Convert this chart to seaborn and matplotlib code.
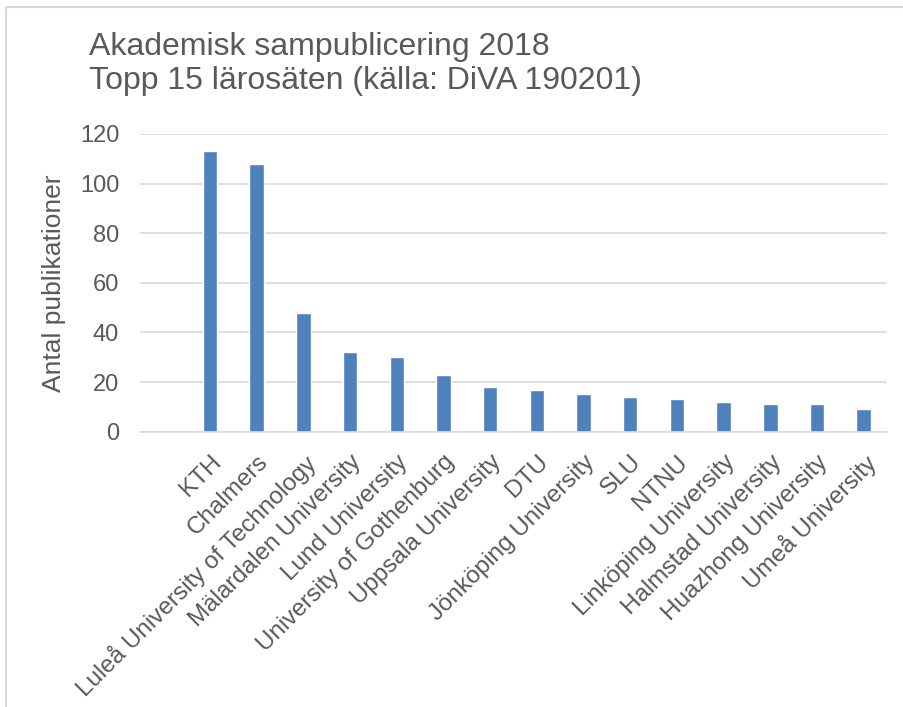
import matplotlib
matplotlib.use('Agg')
import matplotlib.pyplot as plt
from matplotlib.lines import Line2D
import seaborn as sns
import pandas as pd

categories = ["KTH", "Chalmers", "Luleå University of Technology", "Mälardalen University",
              "Lund University", "University of Gothenburg", "Uppsala University", "DTU",
              "Jönköping University", "SLU", "NTNU", "Linköping University",
              "Halmstad University", "Huazhong University", "Umeå University"]
values = [113, 108, 48, 32, 30, 23, 18, 17, 15, 14, 13, 12, 11, 11, 9]
yticks = [0, 20, 40, 60, 80, 100, 120]

sns.set_theme(style='white')
plt.rcParams['font.family'] = ['Liberation Sans', 'DejaVu Sans']

TXT = '#595959'
GRID = '#D9D9D9'

fig = plt.figure(figsize=(9.04, 7.07), dpi=100)
ax = fig.add_axes([140/904, 1-431.7/707, (887-140)/904, (431.7-134)/707])
df = pd.DataFrame({'Lärosäte': categories, 'Antal': values})
sns.barplot(data=df, x='Lärosäte', y='Antal', color='#4F81BD', width=0.31,
            saturation=1, ax=ax)
ax.set_xlim(-1.5, 14.5)
ax.set_ylim(0, 120)
ax.set_yticks(yticks)
ax.yaxis.grid(True, color=GRID, lw=1.2)
ax.xaxis.grid(False)
ax.set_axisbelow(True)
for s in ['top', 'right', 'left']:
    ax.spines[s].set_visible(False)
ax.spines['bottom'].set_color(GRID)
ax.spines['bottom'].set_linewidth(1.2)
ax.tick_params(axis='both', length=0, colors=TXT)
ax.tick_params(axis='y', pad=15, labelsize=17)
ax.tick_params(axis='x', pad=14, labelsize=17.5)
plt.setp(ax.get_xticklabels(), rotation=45, ha='right', va='top', rotation_mode='anchor')
ax.set_xlabel('')
ax.set_ylabel('Antal publikationer', fontsize=19, color=TXT)
ax.yaxis.set_label_coords(-0.099, 0.5)

fig.text(89/904, 1-32/707, 'Akademisk sampublicering 2018\nTopp 15 lärosäten (källa: DiVA 190201)',
         fontsize=23, color=TXT, va='top', ha='left', linespacing=1.16)

fig.add_artist(Line2D([6.5/904, 6.5/904], [0, 1-7/707], transform=fig.transFigure,
                      color=GRID, lw=1.5))
fig.add_artist(Line2D([6.5/904, 1], [1-7/707, 1-7/707], transform=fig.transFigure,
                      color=GRID, lw=1.5))

fig.savefig('out.png', dpi=100)
